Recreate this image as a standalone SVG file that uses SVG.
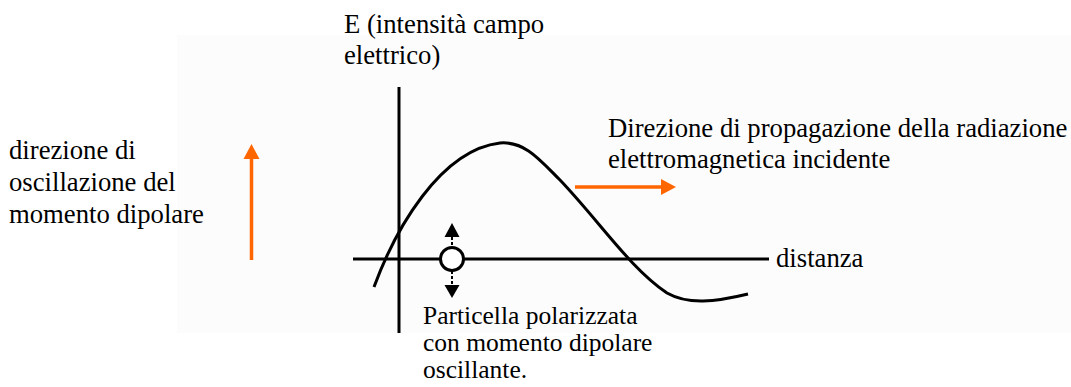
<svg xmlns="http://www.w3.org/2000/svg" width="1071" height="387" viewBox="0 0 1071 387">
<style>
text{font-family:"Liberation Serif","Times New Roman",serif;font-size:26.7px;fill:#000}
.sm{font-size:25.5px}
.ax{stroke:#000;stroke-width:3;fill:none}
.or{stroke:#ff6600;stroke-width:3.5;fill:none}
</style>
<rect width="1071" height="387" fill="#fff"/>
<rect x="177" y="35" width="894" height="298" fill="#fcfcfc"/>
<g id="connectors">
<line class="ax" x1="399" y1="87" x2="399" y2="333"/>
<line class="ax" x1="353" y1="259" x2="769" y2="259"/>
<path class="ax" d="M374,287 C395,230 440,150 500,143 C525,141 540,160 560,180 C600,222 630,268 667,293 C688,305 715,302 748,294"/>
<line class="or" x1="251.5" y1="260" x2="251.5" y2="157"/>
<polygon points="251.5,144 243.5,159 259.5,159" fill="#ff6600"/>
<line class="or" x1="575" y1="187" x2="662" y2="187"/>
<polygon points="676,187 661,179 661,195" fill="#ff6600"/>
<line x1="452" y1="237" x2="452" y2="247" stroke="#000" stroke-width="2" stroke-dasharray="3,2"/>
<polygon points="452,223 444.5,237 459.5,237" fill="#000"/>
<line x1="452" y1="271" x2="452" y2="285" stroke="#000" stroke-width="2" stroke-dasharray="3,2"/>
<polygon points="452,298 444.5,285 459.5,285" fill="#000"/>
</g>
<g id="particle"><circle cx="452" cy="259" r="11.5" fill="#fff" stroke="#000" stroke-width="3"/></g>
<g id="label-E"><text x="344" y="33">E (intensità campo</text><text x="344" y="64">elettrico)</text></g>
<g id="label-left"><text x="9" y="159">direzione di</text><text x="9" y="191">oscillazione del</text><text x="9" y="223">momento dipolare</text></g>
<g id="label-prop"><text x="608" y="137">Direzione di propagazione della radiazione</text><text x="608" y="168">elettromagnetica incidente</text></g>
<g id="label-dist"><text x="776" y="267">distanza</text></g>
<g id="label-particle"><text class="sm" x="423" y="324">Particella polarizzata</text><text class="sm" x="423" y="351">con momento dipolare</text><text class="sm" x="423" y="378">oscillante.</text></g>
</svg>
